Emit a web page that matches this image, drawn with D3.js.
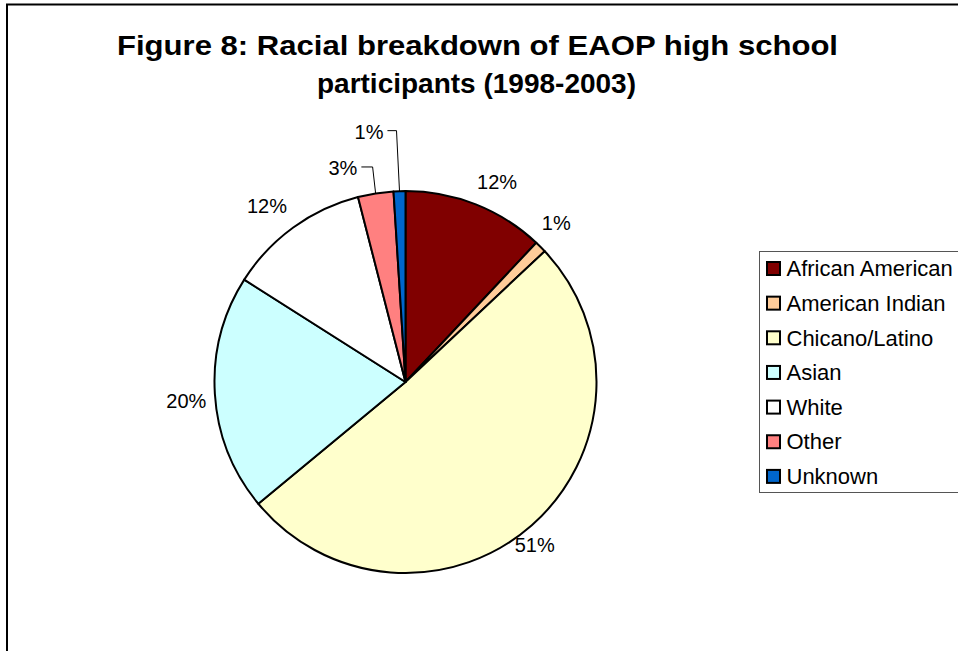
<!DOCTYPE html>
<html>
<head>
<meta charset="utf-8">
<script src="https://cdn.jsdelivr.net/npm/d3@7"></script>
<style>
  html, body { margin: 0; padding: 0; background: #fff; }
  svg { display: block; font-family: Arial, "Liberation Sans", sans-serif; }
</style>
</head>
<body>
<svg id="chart" width="958" height="651"></svg>
<script>
// Racial breakdown of EAOP high school participants, 1998-2003 (percent)
const categories = ["African American", "American Indian", "Chicano/Latino", "Asian", "White", "Other", "Unknown"];
const shares = [12, 1, 51, 20, 12, 3, 1];
const valueLabels = ["12%", "1%", "51%", "20%", "12%", "3%", "1%"];
const colors = ["#800000", "#FFCC99", "#FFFFCC", "#CCFFFF", "#FFFFFF", "#FF8080", "#0066CC"];
const titleLines = ["Figure 8: Racial breakdown of EAOP high school", "participants (1998-2003)"];

// label placement tweaks (degrees / pixels) for the crowded small slices
const labelAngleShift = [3, -1.5, 3, -1.3, -2.2, -7.3, -6.5];
const labelRadiusShift = [0, -1, -12, 0, 4, 3, 33];
const leaderLine = [false, false, false, false, false, true, true];

const svg = d3.select("#chart");
const W = 958, H = 651;

// chart frame
svg.append("rect")
  .attr("x", 7).attr("y", 4.5)
  .attr("width", W + 20).attr("height", H + 20)
  .attr("fill", "#fff")
  .attr("stroke", "#000").attr("stroke-width", 2);

// title
svg.append("g").selectAll("text")
  .data(titleLines)
  .join("text")
  .attr("x", (d, i) => i === 0 ? 477.5 : 476.5)
  .attr("y", (d, i) => i === 0 ? 55 : 93)
  .attr("text-anchor", "middle")
  .attr("font-size", 28)
  .attr("font-weight", "bold")
  .attr("fill", "#000")
  .each(function (d, i) {
    if (i === 0) d3.select(this).attr("textLength", 721).attr("lengthAdjust", "spacingAndGlyphs");
  })
  .text(d => d);

// pie
const cx = 405.5, cy = 382, R = 191;
const pie = d3.pie().sort(null).value(d => d)
  .startAngle(0).endAngle(2 * Math.PI);
const arcs = pie(shares);
const arc = d3.arc().innerRadius(0).outerRadius(R);

const g = svg.append("g").attr("transform", `translate(${cx},${cy})`);
g.selectAll("path.slice")
  .data(arcs)
  .join("path")
  .attr("class", "slice")
  .attr("d", arc)
  .attr("fill", (d, i) => colors[i])
  .attr("stroke", "#000")
  .attr("stroke-width", 2)
  .attr("stroke-linejoin", "round");

// value labels
const labelR = 220;
const toRad = Math.PI / 180;
const labelPos = arcs.map((a, i) => {
  const mid = (a.startAngle + a.endAngle) / 2 + labelAngleShift[i] * toRad;
  const r = labelR + labelRadiusShift[i];
  return [Math.sin(mid) * r, -Math.cos(mid) * r];
});

const labels = g.selectAll("text.val")
  .data(arcs)
  .join("text")
  .attr("class", "val")
  .attr("x", (d, i) => labelPos[i][0])
  .attr("y", (d, i) => labelPos[i][1])
  .attr("dy", "0.35em")
  .attr("text-anchor", "middle")
  .attr("font-size", 20)
  .attr("fill", "#000")
  .text((d, i) => valueLabels[i]);

const labelWidth = [];
labels.each(function (d, i) { labelWidth[i] = this.getComputedTextLength(); });

// leader lines from labels to the outer edge of their slices
g.selectAll("path.leader")
  .data(arcs.filter((d, i) => leaderLine[i]))
  .join("path")
  .attr("class", "leader")
  .attr("fill", "none")
  .attr("stroke", "#000")
  .attr("stroke-width", 1)
  .attr("d", d => {
    const i = d.index;
    const [lx, ly] = labelPos[i];
    const mid = (d.startAngle + d.endAngle) / 2;
    const ex = Math.sin(mid) * R, ey = -Math.cos(mid) * R;
    const sx = lx + labelWidth[i] / 2 + 4;
    return `M${sx},${ly - 1}H${ex - 3}L${ex},${ey}`;
  });

// legend
const legX = 759, legY = 251;
svg.append("rect")
  .attr("x", legX + 0.5).attr("y", legY + 0.5)
  .attr("width", 250).attr("height", 241)
  .attr("fill", "#fff")
  .attr("stroke", "#555").attr("stroke-width", 1);

const rowH = 34.65;
const legend = svg.append("g").selectAll("g")
  .data(categories)
  .join("g")
  .attr("transform", (d, i) => `translate(${legX + 7},${legY + 17.5 + i * rowH})`);

legend.append("rect")
  .attr("x", 1).attr("y", -6.5)
  .attr("width", 13).attr("height", 13)
  .attr("fill", (d, i) => colors[i])
  .attr("stroke", "#000").attr("stroke-width", 2);

legend.append("text")
  .attr("x", 20.5).attr("y", 0)
  .attr("dy", "0.35em")
  .attr("font-size", 22)
  .attr("fill", "#000")
  .text(d => d);
</script>
</body>
</html>
